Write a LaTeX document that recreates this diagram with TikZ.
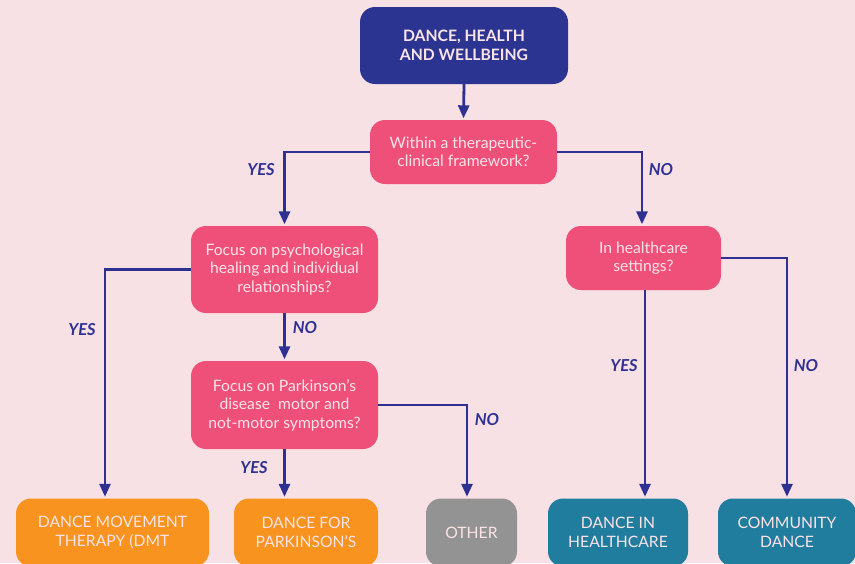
\documentclass[tikz,border=0pt]{standalone}
\usepackage{fontspec}
\setmainfont{Lato}
\usetikzlibrary{arrows.meta}
\definecolor{bg}{HTML}{F7E1E4}
\definecolor{navy}{HTML}{2B3491}
\definecolor{line}{HTML}{2E3192}
\definecolor{qpink}{HTML}{EF5079}
\definecolor{orng}{HTML}{F7931E}
\definecolor{grey}{HTML}{939393}
\definecolor{teal}{HTML}{217D9E}
\definecolor{txt}{HTML}{FBE4E8}
\tikzset{
  box/.style={rounded corners=15pt, text=txt, align=center, inner sep=0pt,
    font=\fontsize{15.7}{18.5}\selectfont},
  topbox/.style={box, fill=navy, font=\bfseries\fontsize{15.7}{18.5}\selectfont},
  qbox/.style={box, fill=qpink},
  endbox/.style={box, minimum height=68pt},
  conn/.style={line, line width=2.8pt, -{Triangle[length=13pt,width=11pt]}, shorten >=1.5pt},
  lbl/.style={text=line, font=\bfseries\itshape\fontsize{16.5}{18}\selectfont},
}
\begin{document}
\begin{tikzpicture}[x=1pt,y=-1pt]
\fill[bg] (0,0) rectangle (855,563);
\useasboundingbox (0,0) rectangle (855,563);
\clip (0,0) rectangle (855,563);
\node[topbox, minimum width=208pt, minimum height=77pt] (top) at (464,45.5) {DANCE, HEALTH\\AND WELLBEING};
\node[qbox, minimum width=187pt, minimum height=64pt] (q1) at (463.5,152) {Within a therapeutic-\\clinical framework?};
\node[qbox, minimum width=187pt, minimum height=87pt] (q2) at (284.5,269.5) {Focus on psychological\\healing and individual\\relationships?};
\node[qbox, minimum width=187pt, minimum height=88pt] (q3) at (284.5,405) {Focus on Parkinson’s\\disease~ motor and\\not-motor symptoms?};
\node[qbox, minimum width=155pt, minimum height=64pt] (q4) at (643.5,258) {In healthcare\\settings?};
\node[endbox, fill=orng, minimum width=193pt] (dmt) at (112.5,532.5) {DANCE MOVEMENT\\THERAPY (DMT};
\node[endbox, fill=orng, minimum width=144pt] (park) at (306,532.5) {DANCE FOR\\PARKINSON’S};
\node[endbox, fill=grey, minimum width=91pt] (other) at (471.5,532.5) {OTHER};
\node[endbox, fill=teal, minimum width=140pt] (hc) at (618,532.5) {DANCE IN\\HEALTHCARE};
\node[endbox, fill=teal, minimum width=138pt] (comm) at (787,532.5) {COMMUNITY\\DANCE};

\draw[conn] (top.south) -- (q1.north);
\draw[conn] (q1.west) -| (q2.north);
\draw[conn] (q1.east) -| ([xshift=-1.5pt]q4.north);
\draw[conn] (q2.west) -| ([xshift=-7.5pt]dmt.north);
\draw[conn] (q2.south) -- (q3.north);
\draw[conn] (q3.east) -| ([xshift=-4.5pt]other.north);
\draw[conn] (q3.south) -- (q3.south |- park.north);
\draw[conn] ([xshift=1.5pt]q4.south) -- ([xshift=1.5pt]q4.south |- hc.north);
\draw[conn] (q4.east) -| (comm.north);

\node[lbl] (l1) at (261,170) {YES};
\node[lbl] (l2) at (661,170) {NO};
\node[lbl] (l3) at (82,330) {YES};
\node[lbl] (l4) at (305,328) {NO};
\node[lbl] (l5) at (487,420) {NO};
\node[lbl] (l6) at (254,468) {YES};
\node[lbl] (l7) at (624,366) {YES};
\node[lbl] (l8) at (806,366) {NO};
\end{tikzpicture}
\end{document}
